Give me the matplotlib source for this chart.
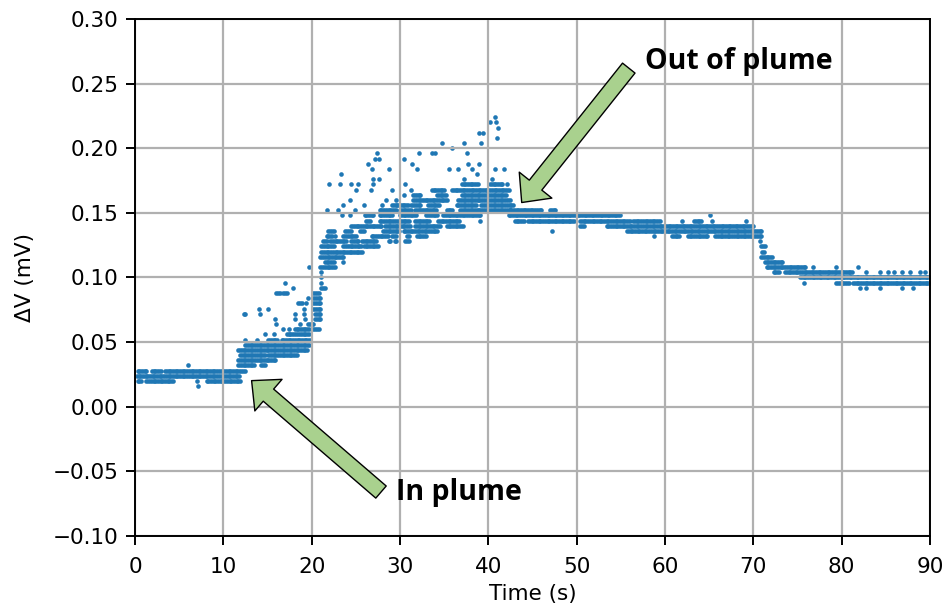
import matplotlib

matplotlib.use("Agg")
import matplotlib.pyplot as plt
import numpy as np

# ADC step of the readout and sample spacing used to expand the runs below
LSB_MV = 0.004
SAMPLE_DT = 0.2

# runs of samples sitting on one ADC level: (level, t_start, t_end)
baseline_runs = [
    (7, 0.3, 1.4), (7, 1.9, 3.0), (7, 3.4, 12.4),
    (6, 0.2, 11.9),
    (5, 0.3, 0.8), (5, 1.3, 1.7), (5, 1.9, 4.3), (5, 8.1, 11.9),
]
rise_runs = [
    (8, 11.7, 13.6), (8, 14.3, 14.7),
    (9, 11.7, 15.9),
    (10, 11.9, 14.7), (10, 15.1, 18.3),
    (11, 11.7, 19.6),
    (12, 12.5, 19.8),
    (13, 15.1, 16.2), (13, 16.6, 19.8),
    (14, 17.2, 18.3), (14, 18.5, 19.8),
    (15, 18.1, 19.8), (15, 20.2, 20.8),
    (16, 19.6, 20.2),
    (17, 20.4, 21.1),
    (18, 12.3, 12.6), (18, 20.4, 21.1),
    (19, 20.2, 21.1),
    (20, 18.5, 18.9), (20, 20.2, 21.0),
    (21, 20.2, 21.0),
    (22, 16.0, 16.4), (22, 16.8, 17.2), (22, 20.2, 20.8),
    (23, 21.1, 21.5),
    (27, 19.7, 19.8), (27, 21.0, 22.6),
    (28, 21.5, 22.6),
    (29, 21.0, 23.6),
    (30, 21.1, 25.7),
    (31, 21.1, 22.6), (31, 23.6, 25.7), (31, 25.9, 27.5),
]
plume_runs = [
    (32, 21.3, 21.7), (32, 22.1, 24.0), (32, 24.5, 25.3), (32, 25.7, 27.4),
    (32, 28.7, 28.9), (32, 29.4, 29.6), (32, 30.6, 31.0),
    (33, 21.7, 22.3), (33, 23.6, 25.1), (33, 26.8, 28.7), (33, 29.1, 29.6),
    (33, 30.8, 31.1), (33, 31.9, 33.0),
    (34, 21.9, 22.6), (34, 23.8, 24.5), (34, 25.5, 25.9), (34, 28.1, 30.0),
    (34, 30.4, 32.6), (34, 32.8, 34.2),
    (35, 24.5, 25.5), (35, 25.7, 27.9), (35, 28.3, 31.1), (35, 31.7, 34.5),
    (35, 35.3, 37.2),
    (36, 26.2, 26.6), (36, 27.7, 29.4), (36, 29.6, 31.1), (36, 31.7, 33.4),
    (36, 34.3, 36.8),
    (37, 26.0, 27.0), (37, 27.7, 29.2), (37, 30.0, 31.9), (37, 33.0, 34.2),
    (37, 34.9, 39.1),
    (38, 27.7, 29.6), (38, 30.0, 31.3), (38, 31.7, 34.2), (38, 35.3, 36.0),
    (38, 36.8, 42.4),
    (39, 29.1, 31.0), (39, 31.3, 32.3), (39, 33.2, 34.5), (39, 36.4, 38.7),
    (39, 39.2, 42.8),
    (40, 31.5, 35.3), (40, 36.6, 42.4),
    (41, 31.5, 32.3), (41, 34.2, 35.3), (41, 37.0, 42.1),
    (42, 33.6, 35.1), (42, 35.9, 42.3),
    (43, 37.0, 38.9), (43, 40.2, 41.7),
]
decay_runs = [
    (38, 42.4, 46.0), (38, 47.0, 47.7),
    (37, 42.3, 54.9),
    (36, 43.0, 44.0), (36, 44.5, 49.8), (36, 50.4, 56.0), (36, 56.4, 59.4),
    (36, 63.3, 64.1),
    (35, 50.4, 50.8), (35, 53.4, 70.0),
    (34, 55.7, 70.9),
    (33, 60.8, 61.7), (33, 62.6, 64.9), (33, 65.7, 71.0),
    (31, 70.9, 71.3),
    (30, 71.0, 71.2),
    (29, 70.9, 72.1),
    (28, 71.3, 73.4),
    (27, 71.5, 75.9),
    (26, 72.3, 73.0), (26, 73.6, 81.3),
    (25, 75.3, 90.0),
    (24, 79.4, 80.9), (24, 81.3, 90.0),
]

# isolated samples (spikes): time in s and ADC level
spike_t = [
    6.0, 7.0, 7.1,
    12.5, 13.8, 14.7, 15.7, 16.8, 17.4, 16.0, 18.7, 15.9, 18.1, 19.2,
    14.2, 18.1, 19.1, 14.0, 15.1, 19.1, 19.4, 19.6, 17.9, 17.0, 21.1,
    21.1, 21.1, 23.6, 22.6,
    23.4, 24.3, 21.7, 23.0, 24.9, 23.5, 25.9, 28.0, 24.3, 28.4, 29.5,
    30.5, 25.0, 26.7, 29.1, 31.3, 22.0, 23.2, 24.5, 25.3, 26.9, 30.6, 42.1,
    26.9, 27.6, 37.2, 40.4, 23.3, 38.7,
    26.8, 28.8, 31.9, 35.5, 36.6, 38.2, 40.7, 41.8,
    26.4, 31.4, 37.7, 38.9, 27.2, 27.6, 30.4,
    27.4, 32.2, 33.6, 34.0, 37.6, 35.9, 34.8, 37.3, 39.2,
    41.0, 38.9, 39.4, 41.1, 40.2, 40.9, 40.8, 39.1,
    65.1, 61.9, 65.3, 69.2, 47.2, 58.7, 70.8,
    76.8, 79.4, 81.9,
    82.8, 84.3, 85.3, 85.9, 86.8, 87.7, 88.9, 89.4,
    75.7, 82.1, 82.8, 84.3, 86.8, 88.1,
]
spike_level = [
    8, 5, 4,
    13, 13, 14, 14, 15, 15, 16, 16, 17, 17, 17,
    18, 18, 18, 19, 19, 19, 20, 21, 23, 24, 24,
    25, 26, 28, 33,
    37, 37, 38, 38, 38, 39, 39, 39, 40, 40, 40,
    41, 42, 42, 42, 42, 43, 43, 43, 43, 43, 43, 43,
    44, 44, 44, 44, 45, 45,
    46, 46, 46, 46, 46, 46, 46, 46,
    47, 47, 47, 47, 48, 48, 48,
    49, 49, 49, 49, 49, 50, 51, 51, 51,
    52, 53, 53, 54, 55, 55, 56, 36,
    37, 36, 36, 36, 34, 33, 32,
    27, 27, 27,
    26, 26, 26, 26, 26, 26, 26, 26,
    24, 23, 23, 23, 23, 23,
]

x_ticks = [0, 10, 20, 30, 40, 50, 60, 70, 80, 90]
y_ticks = [-0.10, -0.05, 0.00, 0.05, 0.10, 0.15, 0.20, 0.25, 0.30]


def expand_runs(runs):
    ts, vs = [], []
    for level, t0, t1 in runs:
        t = np.arange(t0, t1 + 1e-9, SAMPLE_DT)
        if t.size == 0:
            t = np.array([t0])
        ts.append(t)
        vs.append(np.full(t.size, level * LSB_MV))
    return np.concatenate(ts), np.concatenate(vs)


all_runs = baseline_runs + rise_runs + plume_runs + decay_runs
t_runs, v_runs = expand_runs(all_runs)
time_s = np.concatenate([t_runs, np.asarray(spike_t)])
dv_mv = np.concatenate([v_runs, np.asarray(spike_level) * LSB_MV])

plt.rcParams.update({
    "font.size": 15.5,
    "axes.linewidth": 1.4,
    "xtick.major.size": 6.3,
    "ytick.major.size": 6.3,
    "xtick.major.width": 1.4,
    "ytick.major.width": 1.4,
    "xtick.major.pad": 9,
    "ytick.major.pad": 5.5,
})

fig = plt.figure(figsize=(9.48, 6.10), dpi=100)
ax = fig.add_axes([0.1424, 0.1213, 0.8386, 0.8476])

ax.scatter(time_s, dv_mv, s=11, color="#1f77b4", linewidths=0)

ax.set_xlim(0, 90)
ax.set_ylim(-0.10, 0.30)
ax.set_xticks(x_ticks)
ax.set_yticks(y_ticks)
ax.set_yticklabels([f"{v:.2f}".replace("-", "\u2212") for v in y_ticks])
ax.grid(True, color="#b0b0b0", linewidth=1.6)
ax.set_xlabel("Time (s)", labelpad=5)
ax.set_ylabel("\u0394V (mV)", labelpad=13)

arrow_style = dict(
    arrowstyle="simple,head_length=1.6,head_width=3.0,tail_width=1.15",
    mutation_scale=10,
    fc="#a9d18e",
    ec="black",
    lw=1.0,
    shrinkA=0,
    shrinkB=0,
)
ax.annotate("", xy=(13.2, 0.0202), xytext=(27.85, -0.066), arrowprops=arrow_style, zorder=5)
ax.annotate("", xy=(43.78, 0.158), xytext=(55.9, 0.262), arrowprops=arrow_style, zorder=5)

label_font = dict(family=["Open Sans", "DejaVu Sans"], fontweight="bold", fontsize=20.5)
ax.text(29.5, -0.0721, "In plume", ha="left", va="baseline", zorder=6, **label_font)
ax.text(57.74, 0.2612, "Out of plume", ha="left", va="baseline", zorder=6, **label_font)

fig.savefig("out.png", dpi=100)
plt.close(fig)
